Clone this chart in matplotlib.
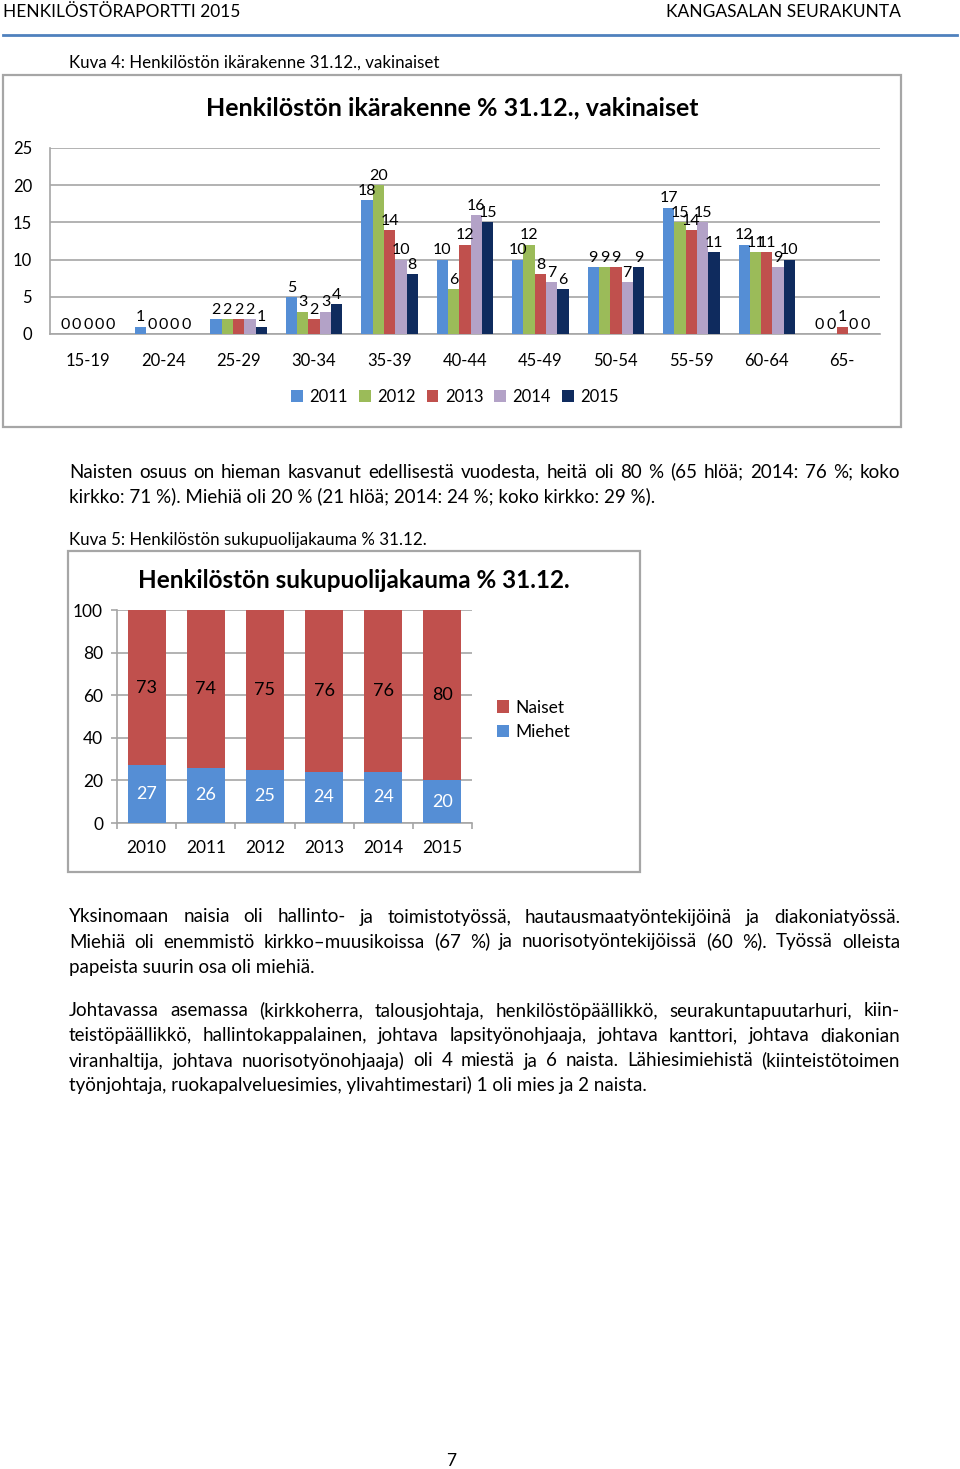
import matplotlib
matplotlib.use("Agg")
import matplotlib.pyplot as plt
from matplotlib.patches import Rectangle, Patch
from matplotlib.lines import Line2D
import numpy as np

plt.rcParams['font.family'] = ['Lato', 'DejaVu Sans']

# ---------------- data ----------------
age_groups = ["15-19", "20-24", "25-29", "30-34", "35-39", "40-44",
              "45-49", "50-54", "55-59", "60-64", "65-"]
years1 = ["2011", "2012", "2013", "2014", "2015"]
v2011 = [0, 1, 2, 5, 18, 10, 10, 9, 17, 12, 0]
v2012 = [0, 0, 2, 3, 20, 6, 12, 9, 15, 11, 0]
v2013 = [0, 0, 2, 2, 14, 12, 8, 9, 14, 11, 1]
v2014 = [0, 0, 2, 3, 10, 16, 7, 7, 15, 9, 0]
v2015 = [0, 0, 1, 4, 8, 15, 6, 9, 11, 10, 0]
age_series = [v2011, v2012, v2013, v2014, v2015]
age_colors = ["#558ED5", "#9BBB59", "#C0504D", "#B3A2C7", "#0F2B5E"]

years2 = ["2010", "2011", "2012", "2013", "2014", "2015"]
naiset = [73, 74, 75, 76, 76, 80]
miehet = [27, 26, 25, 24, 24, 20]

W, H = 960, 1469
fig = plt.figure(figsize=(W / 100, H / 100), dpi=100)


def fx(x):
    return x / W


def fy(y):
    return 1 - y / H


def ax_rect(x0, y0, x1, y1):
    return [fx(x0), fy(y1), (x1 - x0) / W, (y1 - y0) / H]


def box(x0, y0, x1, y1, color="#A6A6A6", lw=1.6):
    fig.patches.append(Rectangle((fx(x0), fy(y1)), (x1 - x0) / W, (y1 - y0) / H,
                                 transform=fig.transFigure, fill=False,
                                 edgecolor=color, linewidth=lw))


def ftext(x, y, s, **kw):
    return fig.text(fx(x), fy(y), s, **kw)


renderer = fig.canvas.get_renderer()


def text_width(s, size):
    t = fig.text(0, 0, s, fontsize=size)
    w = t.get_window_extent(renderer).width
    t.remove()
    return w


def para_line(x0, y, s, size):
    # y is the visual centre of the line; draw on a common baseline
    ftext(x0, y + 5.5, s, fontsize=size, va="baseline", ha="left")


def justified(x0, x1, y, s, size):
    words = s.split(" ")
    widths = [text_width(w, size) for w in words]
    gap = (x1 - x0 - sum(widths)) / (len(words) - 1)
    x = x0
    for w, wd in zip(words, widths):
        ftext(x, y + 5.5, w, fontsize=size, va="baseline", ha="left")
        x += wd + gap


# ---------------- header ----------------
ftext(3, 12, "HENKILÖSTÖRAPORTTI 2015", fontsize=12.5, va="center", ha="left")
ftext(901, 12, "KANGASALAN SEURAKUNTA", fontsize=12.5, va="center", ha="right")
fig.add_artist(Line2D([fx(3), fx(957)], [fy(35), fy(35)], transform=fig.transFigure,
                      color="#4F81BD", linewidth=2))

ftext(69, 63, "Kuva 4: Henkilöstön ikärakenne 31.12., vakinaiset", fontsize=12.2,
      va="center", ha="left")

# ---------------- chart 1 ----------------
box(3, 75, 901, 427)
ftext(452, 108, "Henkilöstön ikärakenne % 31.12., vakinaiset", fontsize=18,
      fontweight="bold", va="center", ha="center")

ax1 = fig.add_axes(ax_rect(50, 148, 880, 334))
x = np.arange(len(age_groups))
bw = 0.15
for i, (vals, col) in enumerate(zip(age_series, age_colors)):
    pos = x + (i - 2) * bw
    ax1.bar(pos, vals, width=bw, color=col, zorder=3)
    for p, v in zip(pos, vals):
        ax1.text(p, v + 0.3, str(v), ha="center", va="bottom", fontsize=11.5, zorder=4)
ax1.set_xlim(-0.5, len(age_groups) - 0.5)
ax1.set_ylim(0, 25)
ax1.set_yticks(np.arange(0, 26, 5))
ax1.set_xticks(x)
ax1.set_xticklabels(age_groups)
ax1.grid(axis="y", color="#A6A6A6", linewidth=1.2, zorder=0)
ax1.set_axisbelow(True)
for s in ["top", "right"]:
    ax1.spines[s].set_visible(False)
for s in ["left", "bottom"]:
    ax1.spines[s].set_color("#A6A6A6")
    ax1.spines[s].set_linewidth(1.2)
ax1.tick_params(axis="both", length=0, labelsize=12)
ax1.tick_params(axis="y", pad=13)
ax1.tick_params(axis="x", pad=14)

handles1 = [Patch(facecolor=c, label=y) for c, y in zip(age_colors, years1)]
fig.legend(handles=handles1, loc="center", bbox_to_anchor=(fx(455), fy(397)),
           ncol=5, frameon=False, fontsize=12, handlelength=0.7, handleheight=0.7,
           handletextpad=0.4, columnspacing=0.65)

# ---------------- paragraph 1 ----------------
PS = 13.5
justified(69, 900, 472,
          "Naisten osuus on hieman kasvanut edellisestä vuodesta, heitä oli 80 % (65 hlöä; 2014: 76 %; koko",
          PS)
para_line(69, 497, "kirkko: 71 %). Miehiä oli 20 % (21 hlöä; 2014: 24 %; koko kirkko: 29 %).", PS)

ftext(69, 540, "Kuva 5: Henkilöstön sukupuolijakauma % 31.12.", fontsize=12.2,
      va="center", ha="left")

# ---------------- chart 2 ----------------
box(68, 551, 640, 872)
ftext(354, 581, "Henkilöstön sukupuolijakauma % 31.12.", fontsize=17.5,
      fontweight="bold", va="center", ha="center")

ax2 = fig.add_axes(ax_rect(117, 610, 472, 823))
x2 = np.arange(len(years2))
bw2 = 0.64
ax2.bar(x2, miehet, width=bw2, color="#558ED5", zorder=3, label="Miehet")
ax2.bar(x2, naiset, width=bw2, bottom=miehet, color="#C0504D", zorder=3, label="Naiset")
for xi, m, n in zip(x2, miehet, naiset):
    ax2.text(xi, m / 2, str(m), ha="center", va="center", color="white", fontsize=13, zorder=4)
    ax2.text(xi, m + n / 2, str(n), ha="center", va="center", color="black", fontsize=13, zorder=4)
ax2.set_xlim(-0.5, len(years2) - 0.5)
ax2.set_ylim(0, 100)
ax2.set_yticks(np.arange(0, 101, 20))
ax2.set_xticks(x2)
ax2.set_xticklabels(years2)
ax2.set_xticks(np.arange(-0.5, len(years2)), minor=True)
ax2.grid(axis="y", color="#A6A6A6", linewidth=1.2, zorder=0)
ax2.set_axisbelow(True)
for s in ["top", "right"]:
    ax2.spines[s].set_visible(False)
for s in ["left", "bottom"]:
    ax2.spines[s].set_color("#A6A6A6")
    ax2.spines[s].set_linewidth(1.2)
ax2.tick_params(axis="x", which="major", length=0, labelsize=12.5, pad=12)
ax2.tick_params(axis="x", which="minor", length=4, color="#A6A6A6", width=1.2)
ax2.tick_params(axis="y", length=4, color="#A6A6A6", width=1.2, labelsize=12.5, pad=6)

handles2 = [Patch(facecolor="#C0504D", label="Naiset"), Patch(facecolor="#558ED5", label="Miehet")]
fig.legend(handles=handles2, loc="upper left", bbox_to_anchor=(fx(481), fy(684)),
           ncol=1, frameon=False, fontsize=12.5, handlelength=0.7, handleheight=0.7,
           handletextpad=0.4, labelspacing=0.5)

# ---------------- paragraphs 2 & 3 ----------------
justified(69, 900, 917,
          "Yksinomaan naisia oli hallinto- ja toimistotyössä, hautausmaatyöntekijöinä ja diakoniatyössä.", PS)
justified(69, 900, 942,
          "Miehiä oli enemmistö kirkko–muusikoissa (67 %) ja nuorisotyöntekijöissä (60 %). Työssä olleista", PS)
para_line(69, 967, "papeista suurin osa oli miehiä.", PS)

justified(69, 900, 1011,
          "Johtavassa asemassa (kirkkoherra, talousjohtaja, henkilöstöpäällikkö, seurakuntapuutarhuri, kiin-", PS)
justified(69, 900, 1036,
          "teistöpäällikkö, hallintokappalainen, johtava lapsityönohjaaja, johtava kanttori, johtava diakonian", PS)
justified(69, 900, 1061,
          "viranhaltija, johtava nuorisotyönohjaaja) oli 4 miestä ja 6 naista. Lähiesimiehistä (kiinteistötoimen", PS)
para_line(69, 1086, "työnjohtaja, ruokapalveluesimies, ylivahtimestari) 1 oli mies ja 2 naista.", PS)

ftext(451, 1461, "7", fontsize=12.5, va="center", ha="center")

fig.savefig("out.png", dpi=100)
